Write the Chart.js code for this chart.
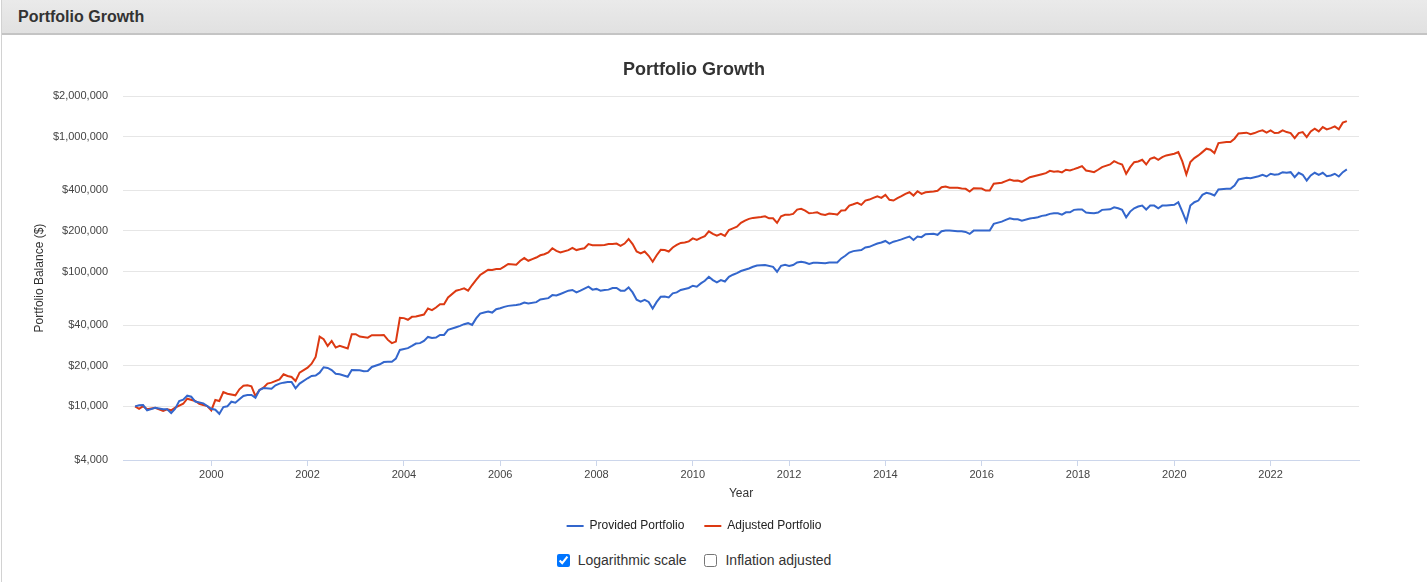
<!DOCTYPE html>
<html>
<head>
<meta charset="utf-8">
<title>Portfolio Growth</title>
<script src="https://cdn.jsdelivr.net/npm/chart.js@4.4.1/dist/chart.umd.min.js"></script>
<style>
  html, body { margin: 0; padding: 0; background: #fff; }
  body { width: 1427px; height: 582px; overflow: hidden; font-family: "Liberation Sans", Arial, sans-serif; }
  .panel { position: absolute; left: 1px; top: 0; width: 1426px; height: 582px; border-left: 1px solid #d2d2d2; }
  .panel-head { height: 33px; background: linear-gradient(#eaeaea, #e1e1e1); border-bottom: 2px solid #c4c4c4; }
  .panel-head h3 { margin: 0; padding-left: 16px; font-size: 16px; font-weight: bold; color: #333; line-height: 33px; }
  #chartBox { position: absolute; left: -1px; top: 35px; width: 1386px; height: 507px; }
  .options { position: absolute; left: -1px; top: 550px; width: 1386px; text-align: center; font-size: 14px; color: #333; }
  .options label { display: inline-block; margin: 0 7px; line-height: 20px; }
  .options input { width: 13px; height: 13px; margin: 0 8px 0 0; vertical-align: -2px; }
</style>
</head>
<body>
<div class="panel">
  <div class="panel-head"><h3>Portfolio Growth</h3></div>
  <div id="chartBox"><canvas id="growth"></canvas></div>
  <div class="options">
    <label><input type="checkbox" checked>Logarithmic scale</label>
    <label><input type="checkbox">Inflation adjusted</label>
  </div>
</div>

<script>
"use strict";

// ── Data (month, balance in $) ─────────────
const seriesNames = ["Provided Portfolio", "Adjusted Portfolio"];

const providedSeries = [
  ["1998-06", 10000], ["1998-07", 10170], ["1998-08", 10220], ["1998-09", 9340], ["1998-11", 9770],
  ["1999-01", 9500], ["1999-02", 9500], ["1999-03", 8915], ["1999-04", 9600], ["1999-05", 10950], ["1999-06", 11200],
  ["1999-07", 11990], ["1999-08", 11780], ["1999-09", 10850], ["1999-11", 10530], ["1999-12", 10050],
  ["2000-01", 9600], ["2000-02", 9440], ["2000-03", 8810], ["2000-04", 9880], ["2000-05", 10000], ["2000-06", 10820],
  ["2000-07", 10640], ["2000-08", 11270], ["2000-09", 11930], ["2000-10", 12130], ["2000-11", 12130], ["2000-12", 11590],
  ["2001-01", 13220], ["2001-02", 13680], ["2001-04", 13510], ["2001-05", 14330], ["2001-06", 14740], ["2001-07", 14990],
  ["2001-08", 15160], ["2001-09", 15160], ["2001-10", 13610], ["2001-11", 14740],
  ["2002-01", 16150], ["2002-02", 16800], ["2002-03", 16900], ["2002-04", 17770], ["2002-05", 19490], ["2002-06", 19260],
  ["2002-07", 18600], ["2002-08", 17460], ["2002-09", 17290], ["2002-11", 16590], ["2002-12", 18600],
  ["2003-02", 18500], ["2003-03", 18200], ["2003-04", 18290], ["2003-05", 19590], ["2003-07", 20520], ["2003-08", 21300],
  ["2003-09", 21440], ["2003-10", 21440], ["2003-11", 22590], ["2003-12", 26200],
  ["2004-02", 27020], ["2004-03", 28070], ["2004-04", 29220], ["2004-05", 29430], ["2004-06", 30560], ["2004-07", 32730],
  ["2004-08", 32180], ["2004-09", 32340], ["2004-10", 33860], ["2004-11", 33860], ["2004-12", 36900],
  ["2005-02", 38600], ["2005-03", 39530], ["2005-04", 40700], ["2005-05", 41400], ["2005-06", 40200], ["2005-07", 44880],
  ["2005-08", 48790], ["2005-09", 49600], ["2005-10", 50460], ["2005-11", 49600], ["2005-12", 52570],
  ["2006-01", 53440], ["2006-02", 54700], ["2006-03", 55610], ["2006-05", 56550], ["2006-06", 57230], ["2006-07", 58840],
  ["2006-08", 57840], ["2006-10", 59300], ["2006-11", 62080],
  ["2007-01", 63470], ["2007-02", 66860], ["2007-03", 66360], ["2007-04", 68160], ["2007-06", 72070], ["2007-07", 73000],
  ["2007-08", 69980], ["2007-09", 72070], ["2007-10", 74660], ["2007-11", 77150], ["2007-12", 73390],
  ["2008-01", 74300], ["2008-02", 72070], ["2008-03", 73000], ["2008-04", 73390], ["2008-05", 75500], ["2008-06", 75500],
  ["2008-07", 72070], ["2008-08", 72070], ["2008-09", 76260], ["2008-10", 69980], ["2008-11", 61740], ["2008-12", 59860],
  ["2009-01", 61740], ["2009-02", 59540], ["2009-03", 53150], ["2009-04", 59540], ["2009-05", 64970], ["2009-06", 65300],
  ["2009-07", 64250], ["2009-08", 68860], ["2009-09", 69980], ["2009-10", 73000], ["2009-11", 74300], ["2009-12", 75500],
  ["2010-01", 78460], ["2010-02", 77150], ["2010-03", 81600], ["2010-04", 85360], ["2010-05", 91470], ["2010-06", 86400],
  ["2010-07", 83000], ["2010-08", 86400], ["2010-09", 84350], ["2010-10", 91470], ["2010-11", 94680], ["2010-12", 97200],
  ["2011-01", 100860], ["2011-02", 103130], ["2011-03", 105390], ["2011-04", 108400], ["2011-05", 110900], ["2011-07", 111800],
  ["2011-09", 108400], ["2011-10", 99660], ["2011-11", 110300], ["2011-12", 112300],
  ["2012-01", 110000], ["2012-02", 111800], ["2012-03", 116700], ["2012-04", 118200], ["2012-05", 116700], ["2012-06", 114000],
  ["2012-07", 116000], ["2012-08", 116000], ["2012-10", 115400], ["2012-11", 116700], ["2012-12", 116700],
  ["2013-01", 116700], ["2013-02", 125070], ["2013-03", 130800], ["2013-04", 138300], ["2013-05", 141700], ["2013-07", 144200],
  ["2013-08", 150700], ["2013-09", 152400], ["2013-10", 156800], ["2013-11", 161200], ["2013-12", 164000],
  ["2014-01", 168500], ["2014-02", 161200], ["2014-03", 166500], ["2014-04", 169400], ["2014-05", 173100], ["2014-06", 177800],
  ["2014-07", 181800], ["2014-08", 171300], ["2014-09", 181800], ["2014-10", 179800], ["2014-11", 189000],
  ["2015-01", 190400], ["2015-02", 187200], ["2015-03", 198700], ["2015-04", 201100], ["2015-05", 201100], ["2015-07", 198700],
  ["2015-08", 198700], ["2015-09", 196700], ["2015-10", 190000], ["2015-11", 201100],
  ["2016-01", 201100], ["2016-03", 201100], ["2016-04", 225500], ["2016-06", 234600], ["2016-07", 241500], ["2016-08", 248200],
  ["2016-09", 244000], ["2016-10", 244000], ["2016-11", 238600],
  ["2017-01", 246900], ["2017-02", 249900], ["2017-03", 252500], ["2017-04", 258600], ["2017-05", 261300], ["2017-06", 267600],
  ["2017-07", 270400], ["2017-08", 270400], ["2017-09", 264400], ["2017-10", 275000], ["2017-11", 275000], ["2017-12", 286600],
  ["2018-01", 288100], ["2018-02", 288100], ["2018-03", 273600], ["2018-04", 272200], ["2018-05", 270400], ["2018-06", 273600],
  ["2018-07", 286600], ["2018-09", 289500], ["2018-10", 299700], ["2018-11", 294500], ["2018-12", 286600],
  ["2019-01", 252500], ["2019-02", 278400], ["2019-03", 294500], ["2019-04", 303300], ["2019-05", 308500], ["2019-06", 288100],
  ["2019-07", 308500], ["2019-08", 308500], ["2019-09", 294500], ["2019-10", 308500], ["2019-11", 308500],
  ["2020-01", 312200], ["2020-02", 326500], ["2020-03", 278400], ["2020-04", 234600], ["2020-05", 308500], ["2020-06", 326500],
  ["2020-07", 336000], ["2020-08", 370500], ["2020-09", 383400], ["2020-10", 376900], ["2020-11", 366100], ["2020-12", 405700],
  ["2021-02", 410600], ["2021-03", 410600], ["2021-04", 434500], ["2021-05", 481400], ["2021-07", 495700], ["2021-08", 492300],
  ["2021-09", 500800], ["2021-10", 509400], ["2021-11", 521800], ["2021-12", 506800],
  ["2022-01", 530800], ["2022-02", 521800], ["2022-03", 527200], ["2022-04", 545600], ["2022-05", 540000], ["2022-06", 545600],
  ["2022-07", 500800], ["2022-08", 540000], ["2022-09", 521800], ["2022-10", 473300], ["2022-11", 515600], ["2022-12", 540000],
  ["2023-01", 521800], ["2023-02", 540000], ["2023-03", 509400], ["2023-04", 515600], ["2023-05", 530800], ["2023-06", 506800],
  ["2023-07", 545600], ["2023-08", 571500]
];

const adjustedSeries = [
  ["1998-06", 10000], ["1998-07", 9600], ["1998-08", 10050], ["1998-09", 9500], ["1998-11", 9770],
  ["1999-01", 9230], ["1999-02", 9500], ["1999-03", 9340], ["1999-04", 9770], ["1999-06", 10450], ["1999-07", 11390],
  ["1999-09", 10950], ["1999-10", 10450], ["1999-11", 10220], ["1999-12", 10050],
  ["2000-01", 9340], ["2000-02", 11140], ["2000-03", 10950], ["2000-04", 12770], ["2000-05", 12410], ["2000-07", 12070],
  ["2000-08", 13380], ["2000-09", 14230], ["2000-10", 14330], ["2000-11", 14080], ["2000-12", 11930],
  ["2001-01", 13220], ["2001-02", 13750], ["2001-03", 14740], ["2001-04", 14990], ["2001-06", 15870], ["2001-07", 17290],
  ["2001-08", 16800], ["2001-09", 16510], ["2001-10", 15430], ["2001-11", 17770],
  ["2002-01", 19380], ["2002-02", 20730], ["2002-03", 23270], ["2002-04", 32910], ["2002-05", 31500], ["2002-06", 28070],
  ["2002-07", 30560], ["2002-08", 27290], ["2002-09", 28070], ["2002-11", 26830], ["2002-12", 34260],
  ["2003-01", 34260], ["2003-02", 32910], ["2003-04", 32340], ["2003-05", 33680], ["2003-07", 33680], ["2003-08", 33860],
  ["2003-09", 31100], ["2003-10", 29430], ["2003-11", 30200], ["2003-12", 45350],
  ["2004-01", 45120], ["2004-02", 43850], ["2004-03", 46130], ["2004-04", 46370], ["2004-06", 47960], ["2004-07", 53150],
  ["2004-08", 51710], ["2004-09", 54130], ["2004-10", 57230], ["2004-11", 57230], ["2004-12", 64250],
  ["2005-02", 72070], ["2005-03", 73390], ["2005-04", 74970], ["2005-05", 72070], ["2005-06", 79400], ["2005-07", 86820],
  ["2005-08", 94180], ["2005-09", 98470], ["2005-10", 103130], ["2005-11", 102600], ["2005-12", 104340],
  ["2006-01", 104340], ["2006-02", 108800], ["2006-03", 113700], ["2006-05", 112300], ["2006-06", 120100], ["2006-07", 125800],
  ["2006-08", 120100], ["2006-09", 123700], ["2006-10", 127000], ["2006-11", 132000], ["2006-12", 134300],
  ["2007-01", 138300], ["2007-02", 148900], ["2007-03", 142400], ["2007-04", 138300], ["2007-06", 144200], ["2007-07", 149900],
  ["2007-08", 144200], ["2007-09", 146900], ["2007-10", 148900], ["2007-11", 159700], ["2007-12", 156800],
  ["2008-02", 156800], ["2008-03", 157400], ["2008-04", 159700], ["2008-05", 159700], ["2008-06", 161200], ["2008-07", 154800],
  ["2008-08", 161200], ["2008-09", 174300], ["2008-10", 159700], ["2008-11", 140700], ["2008-12", 136300],
  ["2009-01", 140700], ["2009-02", 130800], ["2009-03", 118200], ["2009-04", 132000], ["2009-05", 144700], ["2009-06", 144200],
  ["2009-07", 140700], ["2009-08", 150700], ["2009-09", 157400], ["2009-10", 163000], ["2009-11", 164000], ["2009-12", 167400],
  ["2010-01", 176100], ["2010-02", 171300], ["2010-03", 177800], ["2010-04", 182700], ["2010-05", 198700], ["2010-06", 190000],
  ["2010-07", 184500], ["2010-08", 190000], ["2010-09", 183800], ["2010-10", 203300], ["2010-11", 208900], ["2010-12", 215000],
  ["2011-01", 229400], ["2011-02", 238600], ["2011-03", 245600], ["2011-04", 249900], ["2011-06", 254200], ["2011-07", 256900],
  ["2011-08", 248200], ["2011-09", 248200], ["2011-10", 229400], ["2011-11", 256900], ["2011-12", 263100],
  ["2012-01", 263100], ["2012-02", 267600], ["2012-03", 288100], ["2012-04", 291500], ["2012-05", 283100], ["2012-06", 270400],
  ["2012-07", 272200], ["2012-08", 275000], ["2012-09", 265800], ["2012-10", 263100], ["2012-11", 269000], ["2012-12", 267600],
  ["2013-01", 264400], ["2013-02", 283100], ["2013-03", 284700], ["2013-04", 308500], ["2013-05", 315400], ["2013-06", 323100],
  ["2013-07", 312200], ["2013-08", 336000], ["2013-09", 341800], ["2013-10", 352000], ["2013-11", 361800], ["2013-12", 352000],
  ["2014-01", 370500], ["2014-02", 340000], ["2014-03", 336000], ["2014-04", 349600], ["2014-05", 361800], ["2014-06", 376900],
  ["2014-07", 387300], ["2014-08", 366100], ["2014-09", 394000], ["2014-10", 376900], ["2014-11", 387300],
  ["2015-01", 392000], ["2015-02", 396800], ["2015-03", 422000], ["2015-04", 427000], ["2015-05", 417700], ["2015-07", 417700],
  ["2015-08", 412700], ["2015-09", 410600], ["2015-10", 392000], ["2015-11", 414800],
  ["2016-01", 412700], ["2016-02", 398700], ["2016-03", 398700], ["2016-04", 447300], ["2016-06", 455000], ["2016-07", 467700],
  ["2016-08", 481400], ["2016-09", 471000], ["2016-10", 473300], ["2016-11", 462900],
  ["2017-01", 500800], ["2017-02", 509400], ["2017-03", 518300], ["2017-04", 527200], ["2017-05", 536200], ["2017-06", 558700],
  ["2017-07", 549400], ["2017-08", 554900], ["2017-09", 542900], ["2017-10", 568400], ["2017-11", 561600], ["2017-12", 574200],
  ["2018-01", 588100], ["2018-02", 604500], ["2018-03", 561600], ["2018-04", 554900], ["2018-05", 545600], ["2018-06", 568400],
  ["2018-07", 594300], ["2018-09", 622400], ["2018-10", 658600], ["2018-11", 636300], ["2018-12", 622400],
  ["2019-01", 530800], ["2019-02", 594300], ["2019-03", 647400], ["2019-04", 655200], ["2019-05", 674500], ["2019-06", 622400],
  ["2019-07", 686000], ["2019-08", 701700], ["2019-09", 674500], ["2019-10", 705300], ["2019-11", 726100],
  ["2020-01", 747500], ["2020-02", 768300], ["2020-03", 655200], ["2020-04", 524500], ["2020-05", 647400], ["2020-06", 693300],
  ["2020-07", 726100], ["2020-08", 768300], ["2020-09", 814400], ["2020-10", 800500], ["2020-11", 755300], ["2020-12", 896300],
  ["2021-02", 911900], ["2021-03", 911900], ["2021-04", 966200], ["2021-05", 1058000], ["2021-07", 1071000], ["2021-08", 1045000],
  ["2021-09", 1064000], ["2021-10", 1095000], ["2021-11", 1114000], ["2021-12", 1071000],
  ["2022-01", 1114000], ["2022-02", 1064000], ["2022-03", 1071000], ["2022-04", 1114000], ["2022-05", 1082000], ["2022-06", 1064000],
  ["2022-07", 976300], ["2022-08", 1064000], ["2022-09", 1082000], ["2022-10", 993000], ["2022-11", 1095000], ["2022-12", 1147000],
  ["2023-01", 1095000], ["2023-02", 1179000], ["2023-03", 1133000], ["2023-04", 1158000], ["2023-05", 1193000], ["2023-06", 1133000],
  ["2023-07", 1271000], ["2023-08", 1306000]
];

const yearTicks = [2000, 2002, 2004, 2006, 2008, 2010, 2012, 2014, 2016, 2018, 2020, 2022];
const balanceTicks = [4000, 10000, 20000, 40000, 100000, 200000, 400000, 1000000, 2000000];

// "YYYY-MM" -> decimal year
function monthToYear(s) {
  const [y, m] = s.split("-").map(Number);
  return y + (m - 1) / 12;
}

function toPoints(series) {
  return series.map(([month, value]) => ({ x: monthToYear(month), y: value }));
}

Chart.defaults.font.family = "'Liberation Sans', Arial, sans-serif";

const lineStyle = { borderWidth: 2, pointRadius: 0, pointHoverRadius: 0, tension: 0, fill: false };

new Chart(document.getElementById("growth").getContext("2d"), {
  type: "line",
  data: {
    datasets: [
      Object.assign({ label: seriesNames[0], data: toPoints(providedSeries), borderColor: "#3366cc", backgroundColor: "#3366cc" }, lineStyle),
      Object.assign({ label: seriesNames[1], data: toPoints(adjustedSeries), borderColor: "#dc3912", backgroundColor: "#dc3912" }, lineStyle),
    ],
  },
  options: {
    responsive: true,
    maintainAspectRatio: false,
    animation: false,
    layout: { padding: { left: 28, right: 28, top: 0, bottom: 0 } },
    plugins: {
      title: {
        display: true,
        text: "Portfolio Growth",
        color: "#333",
        font: { size: 18, weight: "bold" },
        padding: { top: 24, bottom: 15.5 },
      },
      legend: {
        position: "bottom",
        labels: {
          usePointStyle: true,
          pointStyle: "line",
          pointStyleWidth: 17,
          color: "#222",
          font: { size: 12 },
          padding: 20,
        },
      },
      tooltip: { enabled: false },
    },
    scales: {
      x: {
        type: "linear",
        min: 1998.166,
        max: 2023.836,
        afterBuildTicks: (s) => { s.ticks = yearTicks.map((v) => ({ value: v })); },
        afterFit: (s) => { s.height = 40; },
        ticks: { color: "#444", font: { size: 11 }, padding: 2, callback: (v) => String(v) },
        grid: { drawOnChartArea: false, color: "#ccd6eb", tickLength: 6 },
        border: { color: "#ccd6eb" },
        title: { display: true, text: "Year", color: "#333", font: { size: 12 }, padding: { top: 0, bottom: -1 } },
      },
      y: {
        type: "logarithmic",
        min: 4000,
        max: 2000000,
        afterBuildTicks: (s) => { s.ticks = balanceTicks.map((v) => ({ value: v })); },
        afterFit: (s) => { s.width = 94; },
        ticks: { color: "#444", font: { size: 11 }, padding: 15, callback: (v) => "$" + Number(v).toLocaleString("en-US") },
        grid: { color: "#e6e6e6", drawTicks: false },
        border: { display: false },
        title: { display: true, text: "Portfolio Balance ($)", color: "#333", font: { size: 12 }, padding: { top: 3, bottom: 0 } },
      },
    },
  },
});
</script>
</body>
</html>
